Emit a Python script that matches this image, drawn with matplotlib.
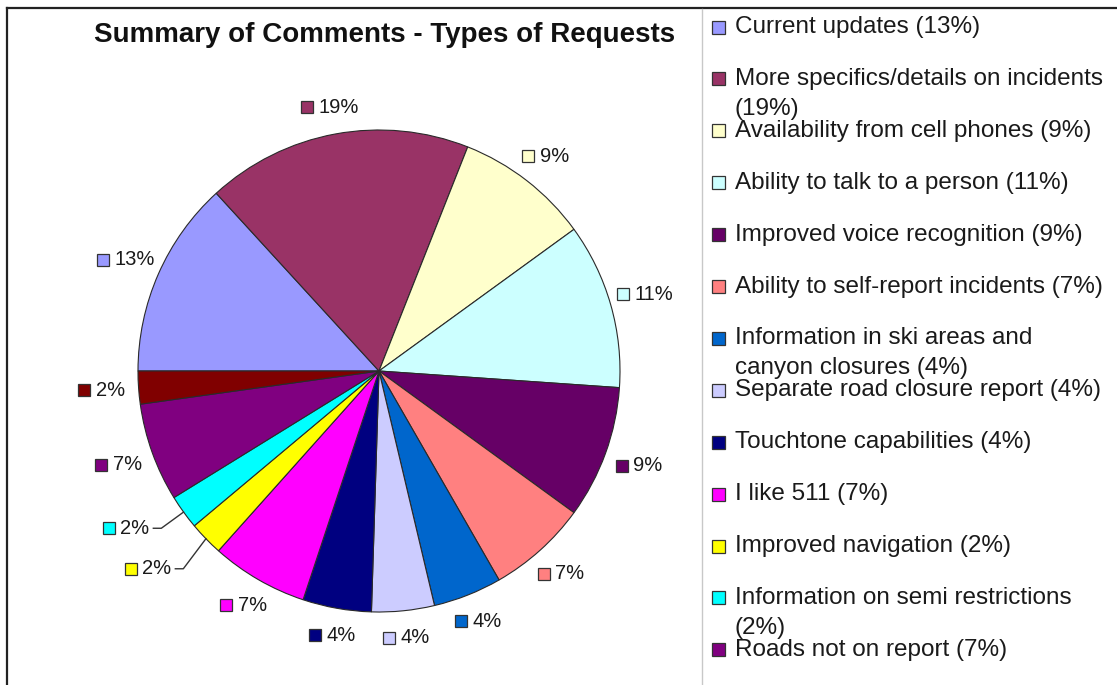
import matplotlib
matplotlib.use("Agg")
import matplotlib.pyplot as plt
import numpy as np
from matplotlib.patches import Rectangle
from matplotlib.lines import Line2D
from matplotlib.offsetbox import HPacker, DrawingArea, TextArea, AnnotationBbox

# ---------------- data ----------------
title = "Summary of Comments - Types of Requests"
categories = [
    "Current updates",
    "More specifics/details on incidents",
    "Availability from cell phones",
    "Ability to talk to a person",
    "Improved voice recognition",
    "Ability to self-report incidents",
    "Information in ski areas and canyon closures",
    "Separate road closure report",
    "Touchtone capabilities",
    "I like 511",
    "Improved navigation",
    "Information on semi restrictions",
    "Roads not on report",
    "Other",
]
legend_labels = [
    "Current updates (13%)",
    "More specifics/details on incidents\n(19%)",
    "Availability from cell phones (9%)",
    "Ability to talk to a person (11%)",
    "Improved voice recognition (9%)",
    "Ability to self-report incidents (7%)",
    "Information in ski areas and\ncanyon closures (4%)",
    "Separate road closure report (4%)",
    "Touchtone capabilities (4%)",
    "I like 511 (7%)",
    "Improved navigation (2%)",
    "Information on semi restrictions\n(2%)",
    "Roads not on report (7%)",
]
# slice shares (percent)
shares = [13.2, 17.8, 9.0, 11.1, 8.9, 6.7, 4.6, 4.2, 4.6, 6.5, 2.3, 2.3, 6.6, 2.2]
pct_labels = ["13%", "19%", "9%", "11%", "9%", "7%", "4%", "4%", "4%", "7%",
              "2%", "2%", "7%", "2%"]
colors = ["#9999FF", "#993366", "#FFFFCC", "#CCFFFF", "#660066", "#FF8080",
          "#0066CC", "#CCCCFF", "#000080", "#FF00FF", "#FFFF00", "#00FFFF",
          "#800080", "#800000"]

# ---------------- layout ----------------
W, H, DPI = 1117, 685, 100
CX, CY, R = 379, 371, 241          # pie centre / radius in pixels
FONT = "Liberation Sans"

fig = plt.figure(figsize=(W / DPI, H / DPI), dpi=DPI)
fig.patch.set_facecolor("white")

ax = fig.add_axes([0, 0, 1, 1])
wedges, _ = ax.pie(shares, colors=colors, startangle=180, counterclock=False,
                   radius=1.0,
                   wedgeprops=dict(edgecolor="#2a2a2a", linewidth=0.8))
ax.set_xlim(-CX / R, (W - CX) / R)
ax.set_ylim(-(H - CY) / R, CY / R)
ax.set_aspect("auto")
ax.axis("off")


def px(x, y):
    """pixel (from top-left) -> figure fraction"""
    return x / W, 1 - y / H


SQ_PT = 12 * 72 / DPI


def label_box(txt, color):
    da = DrawingArea(SQ_PT, SQ_PT, 0, 0)
    da.add_artist(Rectangle((0, 0), SQ_PT, SQ_PT, facecolor=color,
                            edgecolor="#333333", linewidth=0.9))
    ta = TextArea(txt, textprops=dict(fontsize=14.5, family=FONT,
                                      color="#1a1a1a"))
    return HPacker(children=[da, ta], align="center", pad=0, sep=4)


# labels placed by leader lines (index: (angle deg, radius) of box right edge)
leader_labels = {10: (223.6, 1.19), 11: (214.4, 1.155)}

for i, w in enumerate(wedges):
    mid = np.deg2rad((w.theta1 + w.theta2) / 2)
    box = label_box(pct_labels[i], colors[i])
    if i in leader_labels:
        ang, rr = leader_labels[i]
        a = np.deg2rad(ang)
        ex, ey = rr * np.cos(a), rr * np.sin(a)
        ab = AnnotationBbox(box, (ex, ey), xycoords="data", frameon=False,
                            box_alignment=(1.0, 0.5), pad=0)
        ax.add_artist(ab)
        kx = ex + 12 / R
        ax.add_line(Line2D([ex + 4 / R, kx, np.cos(mid)],
                           [ey, ey, np.sin(mid)],
                           color="#333333", linewidth=1.0))
    else:
        rr = (R + 27 + 10 * np.cos(mid) ** 2) / R
        ab = AnnotationBbox(box, (rr * np.cos(mid), rr * np.sin(mid)),
                            xycoords="data", frameon=False,
                            box_alignment=(0.5, 0.5), pad=0)
        ax.add_artist(ab)

# title
fig.text(*px(385, 35), title, ha="center", va="center", fontsize=20,
         fontweight="bold", family=FONT, color="#111111")

# legend (drawn manually)
LEG_Y0, LEG_DY, LINE_DY = 27, 51.9, 30
for i, lab in enumerate(legend_labels):
    y = LEG_Y0 + i * LEG_DY
    x0, y0 = px(712, y + 6.5)
    fig.add_artist(Rectangle((x0, y0), 13 / W, 13 / H, transform=fig.transFigure,
                             facecolor=colors[i], edgecolor="#333333",
                             linewidth=0.9))
    for k, line in enumerate(lab.split("\n")):
        fig.text(*px(735, y + k * LINE_DY), line, ha="left", va="center",
                 fontsize=17.5, family=FONT, color="#1a1a1a")

# chart borders
fig.add_artist(Line2D([7 / W, 1], [1 - 8 / H, 1 - 8 / H], transform=fig.transFigure,
                      color="#222222", linewidth=1.6))
fig.add_artist(Line2D([7 / W, 7 / W], [0, 1 - 8 / H], transform=fig.transFigure,
                      color="#222222", linewidth=1.6))
fig.add_artist(Line2D([702 / W, 702 / W], [0, 1 - 9 / H], transform=fig.transFigure,
                      color="#c8c8c8", linewidth=1.0))

fig.savefig("out.png", dpi=DPI, facecolor="white")
